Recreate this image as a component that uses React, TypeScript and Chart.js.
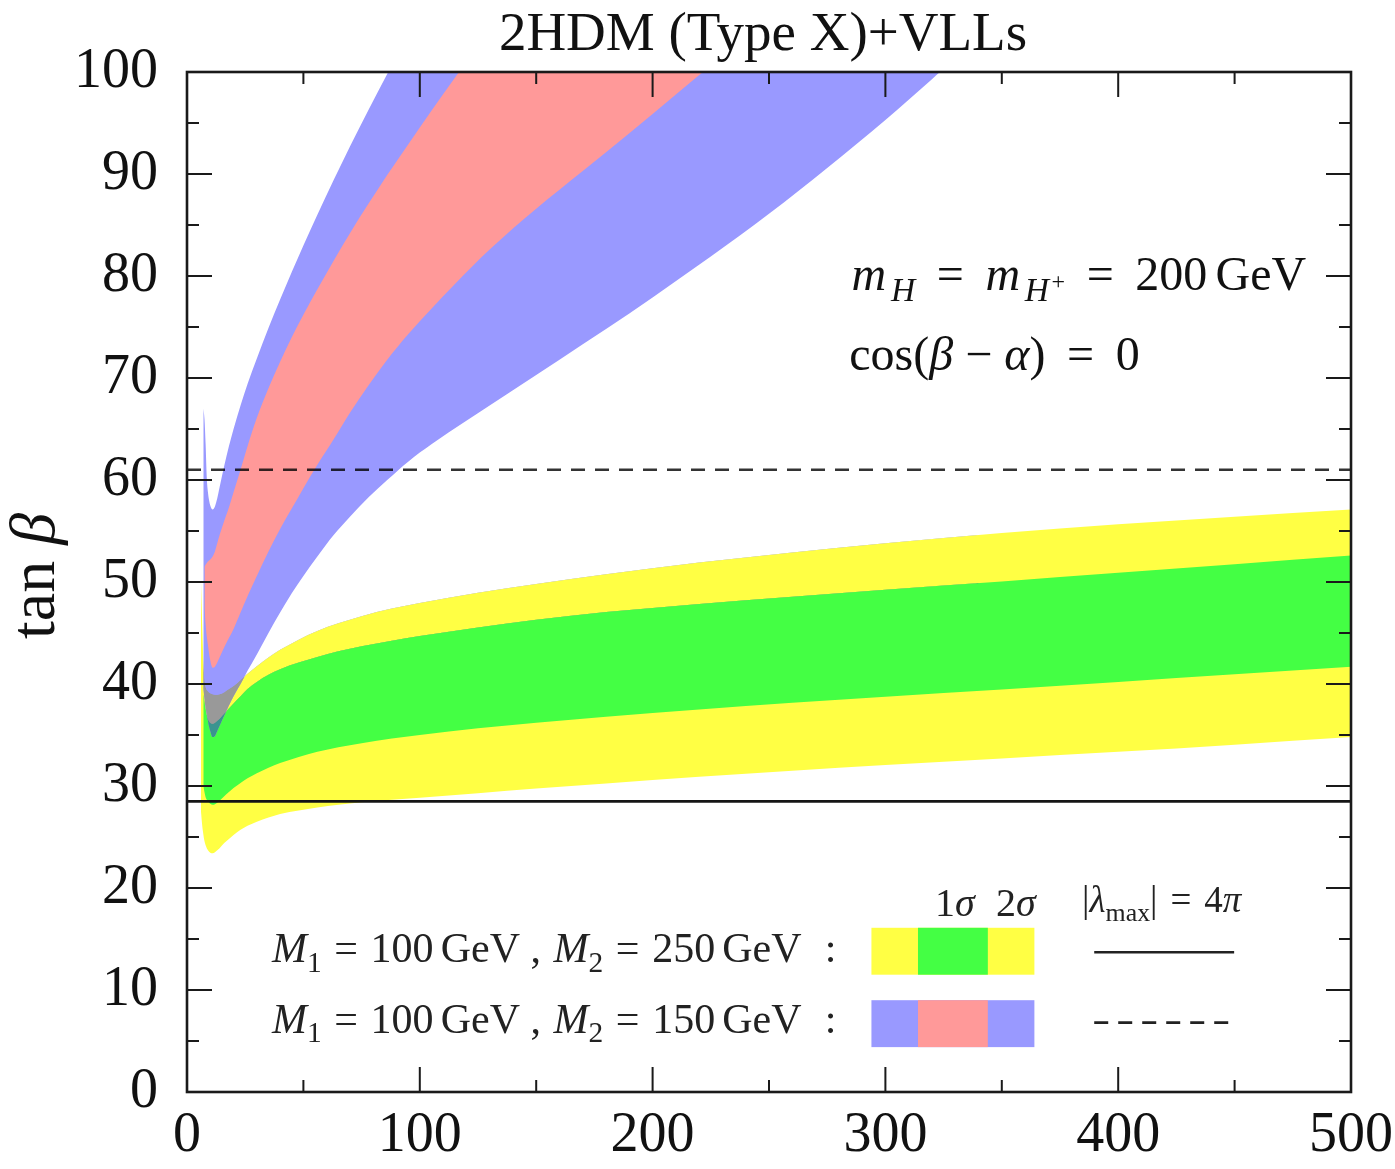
import { useEffect, useRef } from 'react';
import { Chart, registerables } from 'chart.js';

Chart.register(...registerables);

const FONT = '"Liberation Serif", "Times New Roman", serif';

// Allowed tan(beta) regions versus the scanned mass (GeV)
// M1 = 100 GeV, M2 = 250 GeV : 2 sigma (yellow) and 1 sigma (green)
const yellowX = [6, 6.5, 7, 7.5, 8, 9, 10, 11, 12, 13, 14, 16, 18, 20, 23, 26, 30, 35, 40, 48, 56, 65, 75, 88, 100, 125, 150, 180, 220, 260, 300, 350, 400, 450, 500];
const yellowHigh = [50, 46, 42.5, 40.5, 39.7, 39.3, 39.1, 39.0, 38.95, 38.95, 39.0, 39.2, 39.5, 39.8, 40.4, 41.0, 41.75, 42.6, 43.35, 44.35, 45.2, 45.95, 46.65, 47.4, 47.95, 48.95, 49.8, 50.75, 51.9, 52.9, 53.8, 54.8, 55.65, 56.4, 57.1];
const yellowLow = [27.5, 26.2, 25.3, 24.6, 24.2, 23.7, 23.45, 23.4, 23.5, 23.7, 23.9, 24.4, 24.8, 25.2, 25.7, 26.1, 26.5, 26.9, 27.25, 27.6, 27.9, 28.15, 28.4, 28.65, 28.85, 29.3, 29.75, 30.25, 30.9, 31.5, 32.05, 32.7, 33.35, 34.05, 34.8];

const greenX = [7, 7.5, 8, 9, 10, 11, 12, 13, 14, 16, 18, 20, 23, 26, 30, 35, 40, 48, 56, 65, 75, 88, 100, 125, 150, 180, 220, 260, 300, 350, 400, 450, 500];
const greenHigh = [39.0, 38.2, 37.5, 36.6, 36.2, 36.1, 36.2, 36.4, 36.6, 37.1, 37.6, 38.1, 38.8, 39.5, 40.2, 40.9, 41.45, 42.1, 42.65, 43.2, 43.7, 44.25, 44.7, 45.55, 46.3, 47.05, 47.85, 48.55, 49.25, 50.05, 50.9, 51.75, 52.6];
const greenLow = [30.0, 29.4, 28.9, 28.5, 28.25, 28.15, 28.2, 28.35, 28.55, 29.0, 29.4, 29.8, 30.3, 30.75, 31.25, 31.8, 32.25, 32.85, 33.35, 33.8, 34.2, 34.65, 35.0, 35.65, 36.2, 36.8, 37.5, 38.15, 38.75, 39.45, 40.2, 40.95, 41.7];

// M1 = 100 GeV, M2 = 150 GeV : 2 sigma (blue) and 1 sigma (pink)
const blueX = [7, 7.5, 8, 8.5, 9, 9.5, 10, 11, 12, 13, 14, 16, 18, 20, 23, 26, 30, 35, 40, 45, 50, 56, 63, 70, 78, 86, 95, 105, 120, 140, 160, 180, 200, 225, 250, 275, 300, 320, 340];
const blueHigh = [67, 66, 63.5, 60.2, 58.8, 58.0, 57.5, 57.1, 57.4, 58.2, 59.3, 61.4, 63.3, 65.0, 67.3, 69.4, 71.9, 74.9, 77.7, 80.4, 83.0, 86.0, 89.4, 92.7, 96.3, 99.8, 103.6, 107.7, 113.6, 121.2, 128.6, 135.8, 142.8, 151.3, 159.6, 167.7, 175.6, 181.8, 188];
const blueLow = [39.5, 38.6, 37.7, 37.0, 36.4, 35.8, 35.4, 34.8, 34.9, 35.4, 35.9, 36.9, 37.9, 38.8, 40.0, 41.3, 42.9, 45.0, 47.0, 48.9, 50.6, 52.5, 54.6, 56.4, 58.3, 60.0, 61.8, 63.5, 65.8, 68.8, 71.8, 74.8, 77.9, 81.9, 86.1, 90.6, 95.3, 99.3, 103.4];

const pinkX = [7.5, 8, 9, 10, 11, 12, 13, 14, 16, 18, 20, 23, 26, 30, 35, 40, 45, 50, 56, 63, 70, 78, 86, 95, 105, 115, 130, 150, 170, 190, 210, 230, 250];
const pinkHigh = [51.5, 51.7, 52.0, 52.2, 52.5, 53.0, 53.8, 54.6, 56.0, 57.3, 58.8, 61.0, 63.3, 66.1, 69.0, 71.6, 74.0, 76.2, 78.7, 81.5, 84.2, 87.1, 89.9, 92.9, 96.2, 99.4, 104.2, 110.4, 116.5, 122.5, 128.4, 134.2, 140];
const pinkLow = [47.5, 45.8, 43.8, 42.3, 41.6, 41.7, 42.1, 42.6, 43.6, 44.5, 45.4, 47.0, 48.6, 50.6, 53.0, 55.2, 57.2, 59.2, 61.5, 64.0, 66.6, 69.3, 71.8, 74.3, 76.8, 79.2, 82.6, 86.6, 90.3, 94.0, 97.8, 101.6, 105.4];

// Perturbativity limits |lambda_max| = 4 pi
const lambdaLimitSolid = 28.5; // M2 = 250 GeV
const lambdaLimitDashed = 61; // M2 = 150 GeV

const xRange = [0, 500];
const yRange = [0, 100];
const xMajorStep = 100;
const xMinorStep = 50;
const yMajorStep = 10;
const yMinorStep = 5;

const C_YELLOW = '#ffff44';
const C_GREEN = '#44ff44';
const C_BLUE = '#9999ff';
const C_PINK = '#ff9999';
const C_GRAY = '#999999';
const C_TEAL = '#3a9490';
const NONE = 'rgba(0,0,0,0)';

type Piece = { t?: string; it?: boolean; s?: number; dy?: number; gap?: number };

const SUB = { s: 0.7, dy: 0.22 };

function drawRich(ctx: CanvasRenderingContext2D, pieces: Piece[], x: number, y: number, size: number, align: 'left' | 'center' = 'left') {
  const parts = pieces.map((p) => {
    const fs = size * (p.s ?? 1);
    const font = `${p.it ? 'italic ' : ''}${fs}px ${FONT}`;
    let w = 0;
    if (p.gap !== undefined) w = p.gap * size;
    else {
      ctx.font = font;
      w = ctx.measureText(p.t || '').width;
    }
    return { ...p, font, w };
  });
  const total = parts.reduce((acc, p) => acc + p.w, 0);
  let cx = align === 'center' ? x - total / 2 : x;
  ctx.textAlign = 'left';
  ctx.textBaseline = 'alphabetic';
  for (const p of parts) {
    if (p.gap === undefined) {
      ctx.font = p.font;
      ctx.fillText(p.t || '', cx, y + (p.dy ?? 0) * size);
    }
    cx += p.w;
  }
  return total;
}

const pts = (xs: number[], ys: number[]) => xs.map((x, i) => ({ x, y: ys[i] }));

const decorations = {
  id: 'decorations',
  afterDatasetsDraw(chart: any) {
    const { ctx, chartArea: a, scales } = chart;
    const xs = scales.x;
    const ys = scales.y;
    ctx.save();
    ctx.strokeStyle = '#1a1a1a';
    ctx.lineWidth = 2;
    ctx.beginPath();
    for (let v = xRange[0]; v <= xRange[1]; v += xMinorStep) {
      const px = xs.getPixelForValue(v);
      const len = v % xMajorStep === 0 ? 25 : 12;
      ctx.moveTo(px, a.bottom);
      ctx.lineTo(px, a.bottom - len);
      ctx.moveTo(px, a.top);
      ctx.lineTo(px, a.top + len);
    }
    for (let v = yRange[0]; v <= yRange[1]; v += yMinorStep) {
      const py = ys.getPixelForValue(v);
      const len = v % yMajorStep === 0 ? 25 : 12;
      ctx.moveTo(a.left, py);
      ctx.lineTo(a.left + len, py);
      ctx.moveTo(a.right, py);
      ctx.lineTo(a.right - len, py);
    }
    ctx.stroke();
    ctx.lineWidth = 2.6;
    ctx.strokeRect(a.left, a.top, a.right - a.left, a.bottom - a.top);
    ctx.restore();
  },
  afterDraw(chart: any) {
    const { ctx, chartArea: a, scales } = chart;
    const X = (v: number) => scales.x.getPixelForValue(v);
    const Y = (v: number) => scales.y.getPixelForValue(v);
    ctx.save();
    ctx.fillStyle = '#111';

    // title
    ctx.font = `55px ${FONT}`;
    ctx.textAlign = 'center';
    ctx.textBaseline = 'alphabetic';
    ctx.fillText('2HDM (Type X)+VLLs', (a.left + a.right) / 2 - 6, a.top - 22);

    // y axis title
    ctx.save();
    ctx.translate(a.left - 133, (a.top + a.bottom) / 2 - 6);
    ctx.rotate(-Math.PI / 2);
    drawRich(ctx, [{ t: 'tan' }, { gap: 0.25 }, { t: 'β', it: true }], 0, 0, 64, 'center');
    ctx.restore();

    // benchmark parameters
    drawRich(
      ctx,
      [
        { t: 'm', it: true }, { gap: 0.1 }, { t: 'H', it: true, ...SUB }, { gap: 0.45 }, { t: '=' }, { gap: 0.45 },
        { t: 'm', it: true }, { gap: 0.1 }, { t: 'H', it: true, ...SUB }, { gap: 0.05 }, { t: '+', s: 0.5, dy: -0.02 },
        { gap: 0.45 }, { t: '=' }, { gap: 0.45 }, { t: '200' }, { gap: 0.17 }, { t: 'GeV' },
      ],
      X(285.4), Y(78.6), 48,
    );
    drawRich(
      ctx,
      [
        { t: 'cos' }, { t: '(' }, { t: 'β', it: true }, { gap: 0.25 }, { t: '−' }, { gap: 0.25 }, { t: 'α', it: true },
        { t: ')' }, { gap: 0.45 }, { t: '=' }, { gap: 0.45 }, { t: '0' },
      ],
      X(284.5), Y(70.8), 48,
    );

    // legend
    const rowText = (m2: string): Piece[] => [
      { t: 'M', it: true }, { t: '1', ...SUB }, { gap: 0.3 }, { t: '=' }, { gap: 0.3 }, { t: '100' }, { gap: 0.17 }, { t: 'GeV' },
      { gap: 0.25 }, { t: ',' }, { gap: 0.3 }, { t: 'M', it: true }, { t: '2', ...SUB }, { gap: 0.3 }, { t: '=' }, { gap: 0.3 },
      { t: m2 }, { gap: 0.17 }, { t: 'GeV' }, { gap: 0.55 }, { t: ':' },
    ];
    ctx.fillStyle = '#222';
    drawRich(ctx, rowText('250'), X(36.5), Y(12.7), 42);
    drawRich(ctx, rowText('150'), X(36.5), Y(5.8), 42);

    drawRich(ctx, [{ t: '1' }, { t: 'σ', it: true }], X(329.8), Y(17.3), 40, 'center');
    drawRich(ctx, [{ t: '2' }, { t: 'σ', it: true }], X(356), Y(17.3), 40, 'center');
    drawRich(
      ctx,
      [
        { t: '|' }, { t: 'λ', it: true }, { t: 'max', ...SUB }, { t: '|' }, { gap: 0.35 }, { t: '=' }, { gap: 0.35 },
        { t: '4' }, { t: 'π', it: true },
      ],
      X(384.5), Y(17.6), 37,
    );

    const swatch = (y0: number, y1: number, outer: string, inner: string) => {
      ctx.fillStyle = outer;
      ctx.fillRect(X(294), Y(y0), X(364) - X(294), Y(y1) - Y(y0));
      ctx.fillStyle = inner;
      ctx.fillRect(X(314), Y(y0), X(344) - X(314), Y(y1) - Y(y0));
    };
    swatch(16.1, 11.5, C_YELLOW, C_GREEN);
    swatch(9.0, 4.4, C_BLUE, C_PINK);

    ctx.strokeStyle = '#222';
    ctx.lineWidth = 2.6;
    ctx.beginPath();
    ctx.moveTo(X(389.7), Y(13.7));
    ctx.lineTo(X(449.8), Y(13.7));
    ctx.stroke();
    ctx.setLineDash([14, 10]);
    ctx.beginPath();
    ctx.moveTo(X(389.7), Y(6.8));
    ctx.lineTo(X(449.8), Y(6.8));
    ctx.stroke();
    ctx.restore();
  },
};

export default function App() {
  const ref = useRef<HTMLCanvasElement | null>(null);

  useEffect(() => {
    document.body.style.margin = '0';
    const canvas = ref.current;
    if (!canvas) return;

    const band = (xs: number[], lo: number[], hi: number[], lowIndex: number, color: string) => [
      { data: pts(xs, lo), fill: false, borderColor: NONE, borderWidth: 0, pointRadius: 0, cubicInterpolationMode: 'monotone' },
      { data: pts(xs, hi), fill: { target: lowIndex }, backgroundColor: color, borderColor: NONE, borderWidth: 0, pointRadius: 0, cubicInterpolationMode: 'monotone' },
    ];

    const datasets: any[] = [
      ...band(yellowX, yellowLow, yellowHigh, 0, C_YELLOW), // 0,1
      ...band(greenX, greenLow, greenHigh, 2, C_GREEN), // 2,3
      ...band(blueX, blueLow, blueHigh, 4, C_BLUE), // 4,5
      ...band(pinkX, pinkLow, pinkHigh, 6, C_PINK), // 6,7
      // blue 2 sigma region overlapping the yellow one
      { data: pts(blueX, blueLow), fill: { target: 1, above: NONE, below: C_GRAY }, borderColor: NONE, borderWidth: 0, pointRadius: 0, cubicInterpolationMode: 'monotone' },
      // blue 2 sigma region overlapping the green one
      { data: pts(blueX, blueLow), fill: { target: 3, above: NONE, below: C_TEAL }, borderColor: NONE, borderWidth: 0, pointRadius: 0, cubicInterpolationMode: 'monotone' },
      { data: [{ x: xRange[0], y: lambdaLimitDashed }, { x: xRange[1], y: lambdaLimitDashed }], fill: false, borderColor: 'rgba(0,0,0,0.8)', borderWidth: 2.6, borderDash: [14, 10], pointRadius: 0 },
      { data: [{ x: xRange[0], y: lambdaLimitSolid }, { x: xRange[1], y: lambdaLimitSolid }], fill: false, borderColor: '#151515', borderWidth: 2.8, pointRadius: 0 },
    ];
    datasets.forEach((d, i) => { d.order = 100 - i; });

    const chart = new Chart(canvas, {
      type: 'line',
      data: { datasets },
      options: {
        animation: false,
        responsive: false,
        layout: { padding: { top: 72, right: 43, left: 0, bottom: 0 } },
        plugins: { legend: { display: false }, tooltip: { enabled: false }, title: { display: false } },
        scales: {
          x: {
            type: 'linear',
            min: xRange[0],
            max: xRange[1],
            grid: { display: false, drawTicks: false },
            border: { display: false },
            ticks: { stepSize: xMajorStep, font: { family: FONT, size: 56, lineHeight: 1.5 }, color: '#111', padding: 2, maxRotation: 0 },
            afterFit: (s: any) => { s.height = 77; },
          },
          y: {
            type: 'linear',
            min: yRange[0],
            max: yRange[1],
            grid: { display: false, drawTicks: false },
            border: { display: false },
            ticks: { stepSize: yMajorStep, font: { family: FONT, size: 56 }, color: '#111', padding: 29 },
            afterFit: (s: any) => { s.width = 187; },
          },
        },
      } as any,
      plugins: [decorations],
    });
    return () => chart.destroy();
  }, []);

  return (
    <div style={{ width: 1395, height: 1169 }}>
      <canvas ref={ref} width={1395} height={1169} style={{ display: 'block' }} />
    </div>
  );
}
